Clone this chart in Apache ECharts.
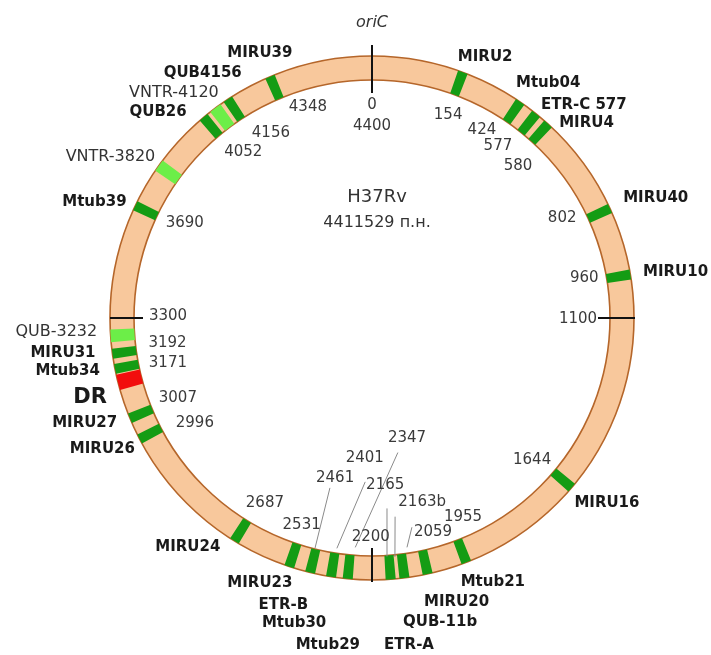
<!DOCTYPE html>
<html>
<head>
<meta charset="utf-8">
<script src="https://cdn.jsdelivr.net/npm/echarts@6/dist/echarts.min.js"></script>
<style>
html, body { margin: 0; background: #fff; }
#map { width: 711px; height: 655px; }
</style>
</head>
<body>
<div id="map"></div>
<script>
// VNTR loci of H37Rv, clockwise from oriC
var lociNames = ['MIRU2', 'Mtub04', 'ETR-C 577', 'MIRU4', 'MIRU40', 'MIRU10', 'MIRU16', 'Mtub21',
    'MIRU20', 'QUB-11b', 'ETR-A', 'Mtub29', 'Mtub30', 'ETR-B', 'MIRU23', 'MIRU24', 'MIRU26', 'MIRU27',
    'DR', 'Mtub34', 'MIRU31', 'QUB-3232', 'Mtub39', 'VNTR-3820', 'QUB26', 'VNTR-4120', 'QUB4156', 'MIRU39'];
// kb position as printed inside the ring ('' = not printed)
var lociKb = ['154', '424', '577', '580', '802', '960', '1644', '1955',
    '2059', '2163b', '2165', '2347', '2401', '2461', '2531', '2687', '2996', '3007',
    '', '3171', '3192', '', '3690', '', '4052', '', '4156', '4348'];
// where each band sits on the 0..4400 kb ring as drawn (schematic, not to scale)
var lociPos = [248, 421, 474, 516, 798, 983, 1593, 1942,
    2050, 2113, 2150, 2265, 2310, 2367, 2425, 2587, 2964, 3025,
    3126, 3163, 3204, 3252, 3610, 3735, 3911, 3951, 3992, 4120];
// 0 = locus, 1 = additional locus (light), 2 = DR region
var lociKind = [0, 0, 0, 0, 0, 0, 0, 0,
    0, 0, 0, 0, 0, 0, 0, 0, 0, 0,
    2, 0, 0, 1, 0, 1, 0, 1, 0, 0];

var tickKb = [0, 1100, 2200, 3300];
var tickLabels = ['0\n4400', '1100', '2200', '3300'];

// ---- layout (radius px, angle in kb) ----
var nameAt = [[284, 287], [294, 450], [300, 549], [290, 583], [308, 820], [307, 995], [299, 1567], [290, 1899],
    [296, 1997], [312, 2046], [329, 2121], [330, 2294], [315, 2375], [300, 2410], [288, 2480], [294, 2674], [300, 2982], [306, 3054],
    [293, 3107], [309, 3178], [311, 3221], [316, 3269], [301, 3578], [307, 3686], [297, 3837], [300, 3895], [298, 3977], [288, 4120]];
var numAt = [[217, 251], [218, 370], [213, 443], [211, 535], [215, 760], [216, 969], [214, 1608], [219, 1900],
    [223, 2006], [191, 2014], [168, 2145], [125, 2001], [140, 2236], [164, 2359], [219, 2429], [214, 2567], [206, 2925], [210, 3026],
    null, [209, 3148], [206, 3215], null, [210, 3629], null, [210, 3938], null, [211, 4050], [220, 4193]];
var tickAt = [[202, 0], [206, 1103], [219, 2204], [204, 3307]];
var tickLen = [[225, 273], [226, 263], [230, 264], [229, 262]];
// leader lines: [r0, kb0, r1, kb1]
var leaders = [[237, 2370, 175, 2370], [233, 2306, 164, 2229], [230, 2251, 137, 2067],
    [239, 2156, 191, 2145], [240, 2133, 200, 2119], [232, 2094, 213, 2068]];

var kindColor = ['#149c14', '#6cee48', '#f20d0d'];
var kindSpan = [27, 34, 42];
var ringIn = 238, ringOut = 262;
var FONT = '"DejaVu Sans", Verdana, sans-serif';

function ctr(params) {
    return [params.coordSys.cx, params.coordSys.cy];
}
function angOf(api, c, kb) {
    var p = api.coord([250, kb]);
    return Math.atan2(p[1] - c[1], p[0] - c[0]);
}

var option = {
    animation: false,
    title: {
        text: 'H37Rv',
        subtext: '4411529 п.н.',
        left: 372,
        top: 183,
        textAlign: 'center',
        itemGap: 9,
        textStyle: { fontFamily: FONT, fontWeight: 'normal', fontSize: 18, color: '#333' },
        subtextStyle: { fontFamily: FONT, fontSize: 16, color: '#333' }
    },
    polar: { center: [372, 318], radius: ringOut },
    angleAxis: { type: 'value', min: 0, max: 4400, startAngle: 90, clockwise: true, show: false },
    radiusAxis: { type: 'value', min: 0, max: ringOut, show: false },
    series: [
        {
            // chromosome ring
            type: 'custom', coordinateSystem: 'polar', silent: true,
            data: [[ringOut, 0]],
            renderItem: function (params, api) {
                var c = ctr(params);
                return {
                    type: 'group',
                    children: [
                        { type: 'ring', shape: { cx: c[0], cy: c[1], r: ringOut, r0: ringIn }, style: { fill: '#f8c89c' } },
                        { type: 'circle', shape: { cx: c[0], cy: c[1], r: ringOut }, style: { fill: 'none', stroke: '#b5662a', lineWidth: 1.6 } },
                        { type: 'circle', shape: { cx: c[0], cy: c[1], r: ringIn }, style: { fill: 'none', stroke: '#b5662a', lineWidth: 1.6 } }
                    ]
                };
            }
        },
        {
            // loci bands
            type: 'custom', coordinateSystem: 'polar', silent: true,
            data: lociPos.map(function (p, i) { return [250, p, lociKind[i]]; }),
            renderItem: function (params, api) {
                var c = ctr(params);
                var kb = api.value(1), k = api.value(2);
                return {
                    type: 'sector',
                    shape: {
                        cx: c[0], cy: c[1], r0: ringIn, r: ringOut,
                        startAngle: angOf(api, c, kb - kindSpan[k] / 2),
                        endAngle: angOf(api, c, kb + kindSpan[k] / 2),
                        clockwise: true
                    },
                    style: { fill: kindColor[k] }
                };
            }
        },
        {
            // 0 / 1100 / 2200 / 3300 marks
            type: 'custom', coordinateSystem: 'polar', silent: true,
            data: tickKb.map(function (t, i) { return [tickLen[i][1], t, i]; }),
            renderItem: function (params, api) {
                var i = api.value(2), kb = api.value(1);
                var a = api.coord([tickLen[i][0], kb]), b = api.coord([tickLen[i][1], kb]);
                return { type: 'line', shape: { x1: a[0], y1: a[1], x2: b[0], y2: b[1] }, style: { stroke: '#111', lineWidth: 2 } };
            }
        },
        {
            // leader lines in the crowded part
            type: 'custom', coordinateSystem: 'polar', silent: true,
            data: leaders.map(function (l) { return [l[0], l[1], l[2], l[3]]; }),
            renderItem: function (params, api) {
                var a = api.coord([api.value(0), api.value(1)]), b = api.coord([api.value(2), api.value(3)]);
                return { type: 'line', shape: { x1: a[0], y1: a[1], x2: b[0], y2: b[1] }, style: { stroke: '#8a8a8a', lineWidth: 1 } };
            }
        },
        {
            // locus names outside
            type: 'custom', coordinateSystem: 'polar', silent: true,
            data: lociNames.map(function (n, i) { return [nameAt[i][0], nameAt[i][1], i]; }),
            renderItem: function (params, api) {
                var i = api.value(2);
                var p = api.coord([api.value(0), api.value(1)]);
                var k = lociKind[i];
                var font = k === 2 ? 'bold 21px ' + FONT : (k === 1 ? '16px ' + FONT : 'bold 15px ' + FONT);
                return {
                    type: 'text', x: p[0], y: p[1],
                    style: { text: lociNames[i], font: font, fill: k === 1 ? '#333' : '#1a1a1a', align: 'center', verticalAlign: 'middle' }
                };
            }
        },
        {
            // kb numbers inside
            type: 'custom', coordinateSystem: 'polar', silent: true,
            data: lociKb.map(function (s, i) { return numAt[i] ? [numAt[i][0], numAt[i][1], i] : null; }).filter(Boolean),
            renderItem: function (params, api) {
                var i = api.value(2);
                var p = api.coord([api.value(0), api.value(1)]);
                return {
                    type: 'text', x: p[0], y: p[1],
                    style: { text: lociKb[i], font: '15px ' + FONT, fill: '#3a3a3a', align: 'center', verticalAlign: 'middle' }
                };
            }
        },
        {
            // tick labels
            type: 'custom', coordinateSystem: 'polar', silent: true,
            data: tickLabels.map(function (s, i) { return [tickAt[i][0], tickAt[i][1], i]; }),
            renderItem: function (params, api) {
                var i = api.value(2);
                var p = api.coord([api.value(0), api.value(1)]);
                return {
                    type: 'text', x: p[0], y: p[1],
                    style: { text: tickLabels[i], font: '15px ' + FONT, lineHeight: 21, fill: '#3a3a3a', align: 'center', verticalAlign: 'middle' }
                };
            }
        },
        {
            // origin of replication
            type: 'custom', coordinateSystem: 'polar', silent: true,
            data: [[295, 0]],
            renderItem: function (params, api) {
                var p = api.coord([api.value(0), api.value(1)]);
                return {
                    type: 'text', x: p[0], y: p[1],
                    style: { text: 'oriC', font: 'italic 16px ' + FONT, fill: '#333', align: 'center', verticalAlign: 'middle' }
                };
            }
        }
    ]
};

var myChart = echarts.init(document.getElementById('map'));
myChart.setOption(option);
</script>
</body>
</html>
